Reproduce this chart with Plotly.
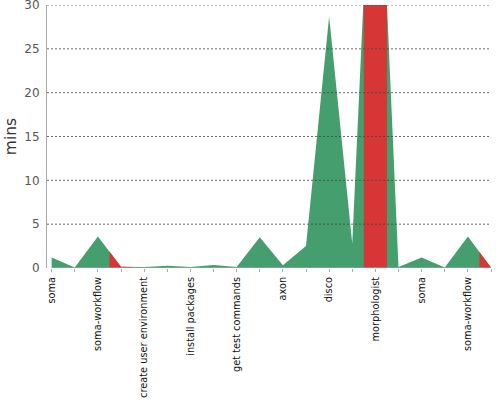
import numpy as np
import plotly.graph_objects as go

# build steps (only every other one is labelled on the axis)
steps = ["soma", "", "soma-workflow", "", "create user environment", "",
         "install packages", "", "get test commands", "", "axon", "",
         "disco", "", "morphologist", "", "soma", "", "soma-workflow", ""]
# duration of each step, in minutes
durations = [1.2, 0.05, 3.6, 0.15, 0.1, 0.25, 0.1, 0.35, 0.1, 3.5,
             0.3, 2.5, 28.7, 2.8, 60.0, 0.1, 1.2, 0.05, 3.6, 0.05]
# steps that failed are drawn in red
failed = [False, False, False, True, False, False, False, False, False, False,
          False, False, False, False, True, False, False, False, False, True]
yticks = [0, 5, 10, 15, 20, 25, 30]

GREEN = "#459e6d"
RED = "#d73636"

x = np.arange(len(durations))
y = np.array(durations)

fig = go.Figure()

# whole series as green area
fig.add_trace(go.Scatter(x=x, y=y, mode="none", fill="tozeroy",
                         fillcolor=GREEN, hoverinfo="skip", showlegend=False))

# red band around each failed step (half a step on each side)
for i, bad in enumerate(failed):
    if not bad:
        continue
    lo = max(i - 0.5, x[0])
    hi = min(i + 0.5, x[-1])
    bx = [lo, i, hi]
    by = list(np.interp(bx, x, y))
    fig.add_trace(go.Scatter(x=bx, y=by, mode="none", fill="tozeroy",
                             fillcolor=RED, hoverinfo="skip", showlegend=False))

# dashed grid lines drawn on top of the areas
shapes = []
for t in yticks[1:]:
    shapes.append(dict(type="line", xref="paper", x0=0, x1=1, yref="y", y0=t, y1=t,
                       line=dict(color="rgba(70,70,70,0.8)", width=1, dash="2px,2px"),
                       layer="above"))
# x axis line starts at the first step
shapes.append(dict(type="line", xref="x", x0=x[0], x1=x[-1], yref="y", y0=0, y1=0,
                   line=dict(color="#aaaaaa", width=1), layer="above"))

fig.update_layout(
    width=500, height=400,
    margin=dict(l=47, r=9, t=5, b=132),
    paper_bgcolor="white", plot_bgcolor="white",
    font=dict(family="DejaVu Sans", color="#333"),
    shapes=shapes,
    showlegend=False,
)
fig.update_xaxes(
    range=[-0.2, len(durations) - 1],
    tickmode="array", tickvals=x, ticktext=steps,
    tickangle=-90, tickfont=dict(size=9.8, color="#111"),
    ticks="outside", ticklen=3, tickcolor="#aaaaaa",
    ticklabelstandoff=1,
    showgrid=False, zeroline=False, showline=False, automargin=False,
)
fig.update_yaxes(
    range=[0, 30], tickvals=yticks,
    tickfont=dict(size=12, color="#555"),
    title=dict(text="mins", font=dict(size=15.5, color="#333"), standoff=3),
    showgrid=False, zeroline=False,
    showline=True, linecolor="#aaaaaa", linewidth=1,
    ticks="", ticklabelstandoff=4, ticklabeloverflow="allow",
    automargin=False,
)

# page body margin would shift the chart, drop it
fig.write_html("out.html", config={"displayModeBar": False},
               post_script="document.body.style.margin='0';")
